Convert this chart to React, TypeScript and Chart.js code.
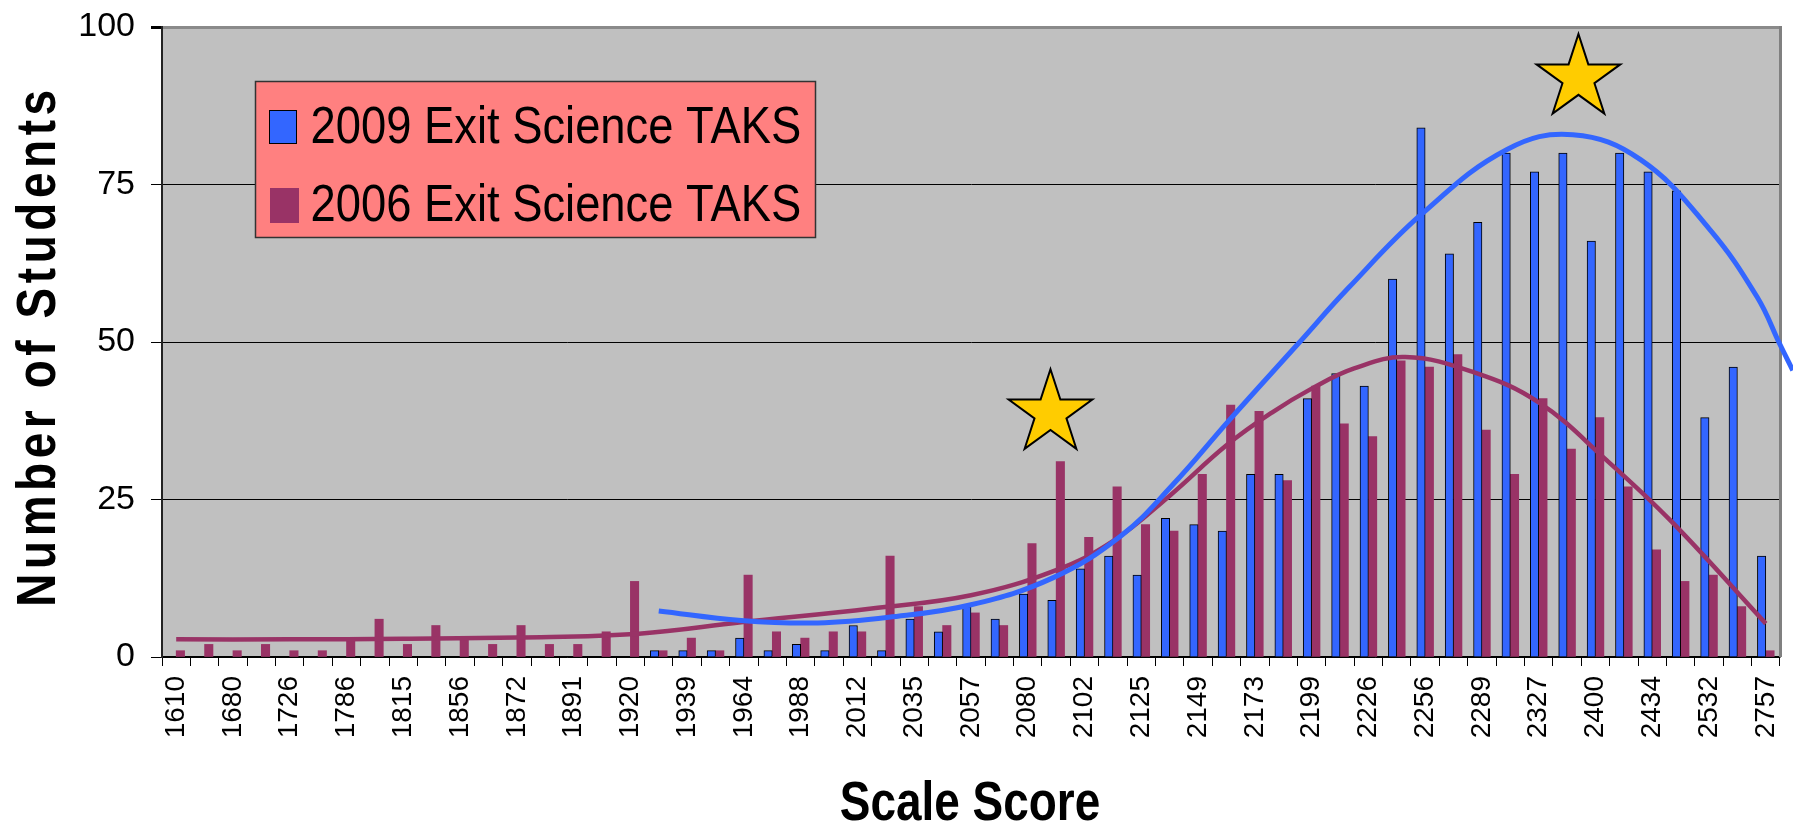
import React, { useEffect, useRef } from 'react';
import { Chart, registerables } from 'chart.js';

Chart.register(...registerables);

// Printed tick labels (every other score bin carries a label)
const scoreLabels = ['1610', '1680', '1726', '1786', '1815', '1856', '1872', '1891', '1920', '1939', '1964', '1988', '2012', '2035', '2057', '2080', '2102', '2125', '2149', '2173', '2199', '2226', '2256', '2289', '2327', '2400', '2434', '2532', '2757'];

// 57 score bins: labelled bins alternate with unlabelled ones
const categories: string[] = scoreLabels.flatMap((l, i) => (i < scoreLabels.length - 1 ? [l, ''] : [l]));

const students2009: (number | null)[] = [
  null, null, null, null, null, null, null, null, null, null,
  null, null, null, null, null, null, null, 1, 1, 1,
  3, 1, 2, 1, 5, 1, 6, 4, 8, 6,
  10, 9, 14, 16, 13, 22, 21, 20, 29, 29,
  41, 45, 43, 60, 84, 64, 69, 80, 77, 80,
  66, 80, 77, 74, 38, 46, 16,
];

const students2006: number[] = [
  1, 2, 1, 2, 1, 1, 3, 6, 2, 5,
  3, 2, 5, 2, 2, 4, 12, 1, 3, 1,
  13, 4, 3, 4, 4, 16, 8, 5, 7, 5,
  18, 31, 19, 27, 21, 20, 29, 40, 39, 28,
  43, 37, 35, 47, 46, 48, 36, 29, 41, 33,
  38, 27, 17, 12, 13, 8, 1,
];

// Trend lines (bin index, students)
const trend2009Index = [17, 19.9, 22.6, 25.1, 28, 30.9, 33.3, 35.1, 37.1, 39.5, 41.3, 43.9, 46.9, 49.2, 51.6, 54, 55.7, 56.5, 56.95];
const trend2009Value = [7.3, 5.8, 5.4, 6.3, 8.3, 12.6, 19.3, 27.3, 37.6, 49.6, 58.6, 70.4, 80.6, 82.9, 78.9, 68, 57.1, 49.6, 45.5];

const trend2006Index = [0, 4, 8, 12, 16.3, 19.9, 24.5, 28, 31, 33, 35, 37, 38.6, 40, 41.5, 43.3, 45.7, 48, 50.4, 52.7, 56];
const trend2006Value = [2.8, 2.8, 2.9, 3.1, 3.7, 5.5, 7.7, 9.8, 13.8, 18.4, 25.6, 33.6, 38.8, 42.6, 45.8, 47.6, 45.2, 40.4, 31.2, 21.4, 5.3];

// Star markers (bin index, students)
const starIndex = [30.8, 49.4];
const starValue = [38.7, 91.9];

const seriesNames = ['2009 Exit Science TAKS', '2006 Exit Science TAKS'];
const yTicks = [0, 25, 50, 75, 100];

const BLUE = '#3366FF';
const MAROON = '#993366';
const FONT = '"Liberation Sans", Arial, Helvetica, sans-serif';

function drawStar(ctx: CanvasRenderingContext2D, cx: number, cy: number, R: number) {
  const r = R * 0.382;
  ctx.beginPath();
  for (let k = 0; k < 10; k++) {
    const ang = -Math.PI / 2 + (k * Math.PI) / 5;
    const rad = k % 2 === 0 ? R : r;
    const px = cx + rad * Math.cos(ang);
    const py = cy + rad * Math.sin(ang);
    if (k === 0) ctx.moveTo(px, py);
    else ctx.lineTo(px, py);
  }
  ctx.closePath();
  ctx.fillStyle = '#FFCC00';
  ctx.fill();
  ctx.lineWidth = 2;
  ctx.strokeStyle = '#000';
  ctx.lineJoin = 'miter';
  ctx.stroke();
}

const decorPlugin = {
  id: 'decor',
  beforeDraw(chart: any) {
    const { ctx, chartArea: a } = chart;
    ctx.save();
    ctx.fillStyle = '#C0C0C0';
    ctx.fillRect(a.left, a.top, a.right - a.left, a.bottom - a.top);
    ctx.restore();
  },
  beforeDatasetsDraw(chart: any) {
    const { ctx, chartArea: a } = chart;
    ctx.save();
    ctx.strokeStyle = '#808080';
    ctx.lineWidth = 3;
    ctx.beginPath();
    ctx.moveTo(a.right + 0.5, a.top - 1);
    ctx.lineTo(a.right + 0.5, a.bottom);
    ctx.stroke();
    ctx.restore();
  },
  afterDatasetsDraw(chart: any) {
    const { ctx } = chart;
    const xs = chart.scales.xt;
    const ys = chart.scales.y;
    ctx.save();
    for (let i = 0; i < starIndex.length; i++) {
      drawStar(ctx, xs.getPixelForValue(starIndex[i]), ys.getPixelForValue(starValue[i]), 44);
    }
    ctx.restore();
  },
  afterDraw(chart: any) {
    const { ctx } = chart;
    // Legend box
    ctx.save();
    ctx.fillStyle = '#FF8080';
    ctx.fillRect(255.5, 81.5, 560, 156);
    ctx.strokeStyle = '#333';
    ctx.lineWidth = 1.5;
    ctx.strokeRect(255.5, 81.5, 560, 156);
    ctx.fillStyle = BLUE;
    ctx.fillRect(269.5, 110.5, 27, 33);
    ctx.strokeStyle = '#000';
    ctx.lineWidth = 1;
    ctx.strokeRect(269.5, 110.5, 27, 33);
    ctx.fillStyle = MAROON;
    ctx.fillRect(270, 188, 29, 35);
    ctx.fillStyle = '#000';
    ctx.font = `52px ${FONT}`;
    ctx.textAlign = 'left';
    ctx.textBaseline = 'alphabetic';
    const rows = [143, 221];
    for (let i = 0; i < seriesNames.length; i++) {
      ctx.save();
      ctx.translate(310.5, rows[i]);
      ctx.scale(0.872, 1);
      ctx.fillText(seriesNames[i], 0, 0);
      ctx.restore();
    }
    ctx.restore();

    // Axis titles
    ctx.save();
    ctx.fillStyle = '#000';
    ctx.font = `bold 56px ${FONT}`;
    ctx.textAlign = 'center';
    ctx.textBaseline = 'alphabetic';
    ctx.save();
    ctx.translate(970, 820);
    ctx.scale(0.82, 1);
    ctx.fillText('Scale Score', 0, 0);
    ctx.restore();

    ctx.save();
    ctx.translate(55, 346);
    ctx.rotate(-Math.PI / 2);
    ctx.scale(0.82, 1);
    (ctx as any).letterSpacing = '5.6px';
    ctx.fillText('Number of Students', 0, 0);
    ctx.restore();
    ctx.restore();
  },
};

const setTrendRange = (s: any) => {
  s.min = -0.5;
  s.max = 56.5;
};

export default function App() {
  const ref = useRef<HTMLCanvasElement>(null);

  useEffect(() => {
    document.body.style.margin = '0';
    const canvas = ref.current;
    if (!canvas) return;

    const chart = new Chart(canvas, {
      type: 'bar',
      data: {
        labels: categories,
        datasets: [
          {
            type: 'line',
            label: '2009 trend',
            data: trend2009Index.map((x, i) => ({ x, y: trend2009Value[i] })),
            xAxisID: 'xt',
            yAxisID: 'y',
            borderColor: BLUE,
            borderWidth: 5,
            pointRadius: 0,
            tension: 0.4,
            fill: false,
            clip: false,
          } as any,
          {
            type: 'line',
            label: '2006 trend',
            data: trend2006Index.map((x, i) => ({ x, y: trend2006Value[i] })),
            xAxisID: 'xt',
            yAxisID: 'y',
            borderColor: MAROON,
            borderWidth: 4.5,
            pointRadius: 0,
            tension: 0.4,
            fill: false,
            clip: false,
          } as any,
          {
            type: 'bar',
            label: seriesNames[0],
            data: students2009,
            backgroundColor: BLUE,
            borderColor: '#000',
            borderWidth: 1,
            xAxisID: 'x',
            yAxisID: 'y',
            barThickness: 8.4,
          } as any,
          {
            type: 'bar',
            label: seriesNames[1],
            data: students2006,
            backgroundColor: MAROON,
            borderWidth: 0,
            xAxisID: 'x',
            yAxisID: 'y',
            barThickness: 8.4,
          } as any,
        ],
      },
      options: {
        responsive: false,
        animation: false,
        devicePixelRatio: 1,
        layout: { padding: { top: 27, right: 13, left: 0, bottom: 0 } },
        plugins: {
          legend: { display: false },
          tooltip: { enabled: false },
        },
        scales: {
          x: {
            type: 'category',
            offset: true,
            grid: {
              offset: true,
              drawOnChartArea: false,
              drawTicks: true,
              tickLength: 9,
              color: '#000',
              lineWidth: 1,
            },
            border: { display: true, color: '#000', width: 1.5 },
            ticks: {
              autoSkip: false,
              minRotation: 90,
              maxRotation: 90,
              padding: 10,
              color: '#000',
              font: { family: FONT, size: 28 },
            },
            afterFit: (s: any) => {
              s.height = 824 - 657;
              s.paddingLeft = 0;
              s.paddingRight = 0;
            },
          },
          xt: {
            type: 'linear',
            display: false,
            bounds: 'data',
            offset: false,
            afterDataLimits: setTrendRange,
            afterBuildTicks: setTrendRange,
          },
          y: {
            type: 'linear',
            min: 0,
            max: 100,
            afterBuildTicks: (s: any) => {
              s.ticks = yTicks.map((v) => ({ value: v }));
            },
            grid: {
              color: (c: any) => (c.tick && c.tick.value === 100 ? '#8a8a8a' : '#000'),
              lineWidth: (c: any) => (c.tick && c.tick.value === 100 ? 3 : 1),
              tickColor: '#000',
              tickLength: 11,
              drawTicks: true,
            },
            border: { display: true, color: '#222', width: 2 },
            ticks: {
              padding: 16,
              color: '#000',
              font: { family: FONT, size: 34 },
            },
            afterFit: (s: any) => {
              s.width = 162;
              s.paddingTop = 0;
              s.paddingBottom = 0;
            },
          },
        },
      },
      plugins: [decorPlugin],
    });

    return () => chart.destroy();
  }, []);

  return (
    <div style={{ width: 1793, height: 824, position: 'relative', background: '#fff' }}>
      <canvas ref={ref} width={1793} height={824} style={{ display: 'block', width: '1793px', height: '824px' }} />
    </div>
  );
}
